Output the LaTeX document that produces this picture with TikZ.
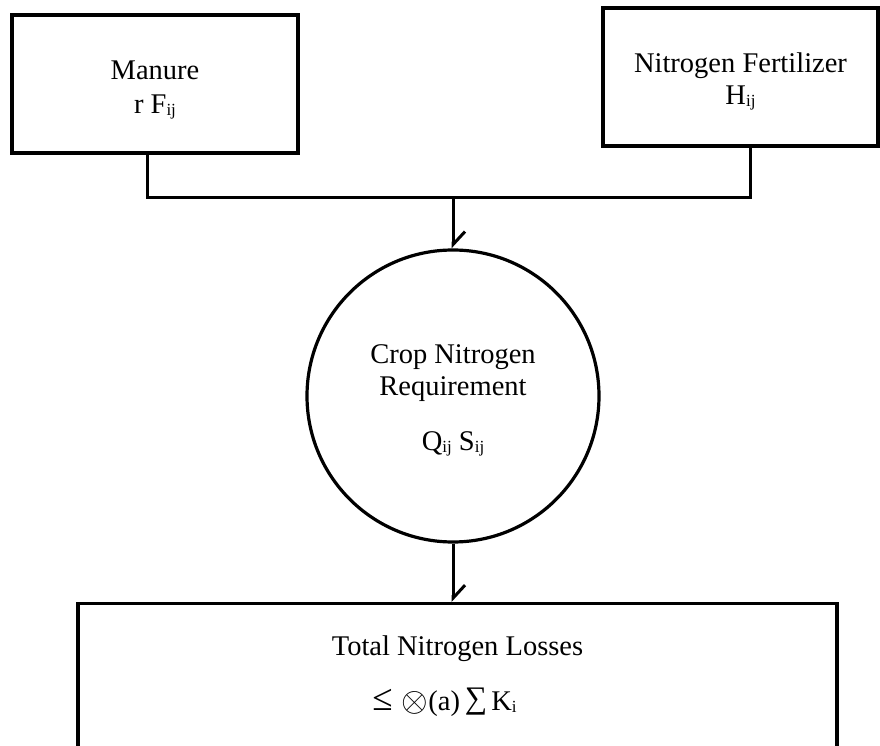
\documentclass[tikz,border=0pt]{standalone}
\usepackage{fontspec}
\setmainfont{Liberation Serif}
\usetikzlibrary{arrows.meta,calc}
% small index set just below the baseline
\newcommand{\idx}[1]{\raisebox{-2pt}{\fontsize{17}{17}\selectfont #1}}
\begin{document}
\begin{tikzpicture}[x=1pt,y=1pt,
  every node/.style={font=\fontsize{28.5}{32}\selectfont},
  box/.style={draw, line width=3.2pt, align=center, inner sep=0pt},
  flow/.style={draw, line width=3pt},
  into/.style={flow, -{Straight Barb[harpoon, length=13pt, width=24pt, line width=3pt]}}
]
\useasboundingbox (0,0) rectangle (880,745);
% sources of nitrogen
\node[box, minimum width=286pt, minimum height=138pt] (man) at (155,661) {};
\node (mantxt) at ([yshift=-6pt]man.center) [align=center, font=\fontsize{28.5}{34}\selectfont] {Manure\\r F\idx{ij}};
\node[box, minimum width=275pt, minimum height=138pt] (fert) at (740.5,668) {};
\node (ferttxt) at ([yshift=-4pt]fert.center) [align=center] {Nitrogen Fertilizer\\H\idx{ij}};
% crop requirement
\node[draw, circle, line width=3.2pt, minimum size=292pt, inner sep=0pt] (crop) at (453,349) {};
\node (croptxt) at ([yshift=-4pt]crop.center) [align=center]
  {Crop Nitrogen\\Requirement\\[23pt]Q\idx{ij} S\idx{ij}};
% losses, running past the lower edge
\node[box, minimum width=759pt, minimum height=180pt, anchor=north] (loss) at (457.5,143) {};
\node[align=center, font=\fontsize{28.5}{55}\selectfont, anchor=north] (losstxt) at ($(loss.north)+(0,-30)$)
  {Total Nitrogen Losses\\\scalebox{1.3}{≤}\hspace{9pt}\raisebox{-1.5pt}{\resizebox{!}{20pt}{$\otimes$}}(a)\hspace{5pt}\raisebox{2pt}{\scalebox{1.1}{∑}}\hspace{4pt}K\idx{i}\hspace*{26pt}};
% junction of the two inputs
\coordinate (jn) at (crop.north |- 0,547);
\draw[flow] ([xshift=-8pt]man.south) |- (jn);
\draw[flow] ([xshift=9.5pt]fert.south) |- (jn);
\draw[into] (jn) -- (crop.north);
\draw[into] (crop.south) -- (crop.south |- loss.north);
\end{tikzpicture}
\end{document}
